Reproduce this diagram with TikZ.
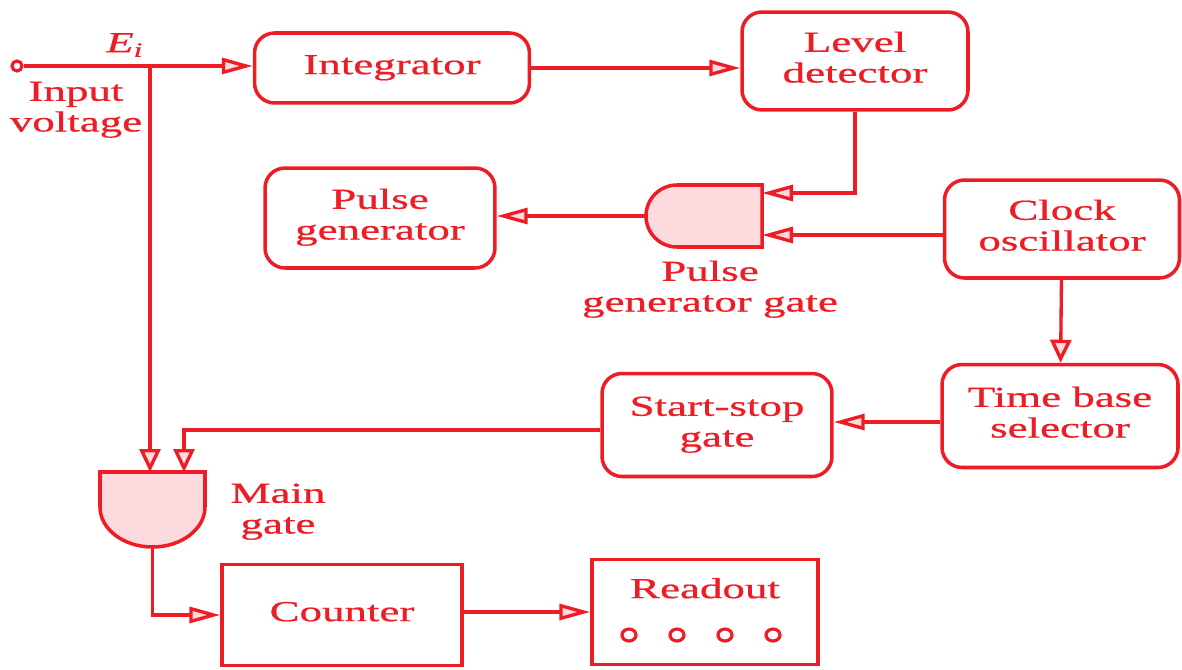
\documentclass[tikz,border=0pt]{standalone}
\usepackage{fontspec}
\setmainfont{Liberation Serif}[FakeBold=0.6]
\usetikzlibrary{arrows.meta}
\definecolor{ink}{RGB}{238,28,36}
\definecolor{pinkfill}{RGB}{253,218,222}
\newcommand{\T}[1]{\scalebox{1.55}[1]{\begin{tabular}{@{}c@{}}#1\end{tabular}}}
\tikzset{
  rbox/.style={draw=ink, line width=2pt, rounded corners=0.4cm, inner sep=0pt},
  sbox/.style={draw=ink, line width=2pt, inner sep=0pt},
  txt/.style={text=ink, font=\fontsize{16.5}{17.5}\selectfont, inner sep=0pt},
  wire/.style={draw=ink, line width=1.9pt},
  harr/.style={wire, -{Triangle[length=0.62cm,width=0.32cm,fill=pinkfill]}},
  varr/.style={wire, -{Triangle[length=0.46cm,width=0.42cm,fill=pinkfill]}},
  gate/.style={draw=ink, line width=2pt, fill=pinkfill}
}
\begin{document}
\begin{tikzpicture}[x=0.02cm,y=0.02cm]
\useasboundingbox (0,0) rectangle (1182,-669);
% boxes
\node (int) [rbox, txt, minimum width=5.5cm, minimum height=1.4cm] at (392,-68) {\T{Integrator}};
\node (lev) [rbox, txt, minimum width=4.52cm, minimum height=1.96cm] at (855,-61) {\T{Level\\detector}};
\node (pgen) [rbox, txt, minimum width=4.6cm, minimum height=2cm] at (380,-218) {\T{Pulse\\generator}};
\node (clk) [rbox, txt, minimum width=4.7cm, minimum height=1.96cm] at (1062,-229) {\T{Clock\\oscillator}};
\node (tbs) [rbox, txt, minimum width=4.72cm, minimum height=2.06cm] at (1060,-416) {\T{Time base\\selector}};
\node (ssg) [rbox, txt, minimum width=4.6cm, minimum height=2.06cm] at (717,-425) {\T{Start-stop\\gate}};
\node (cnt) [sbox, txt, minimum width=4.8cm, minimum height=2.02cm] at (342,-615) {\T{Counter}};
\node (rd) [sbox, minimum width=4.52cm, minimum height=2.1cm] at (705,-612) {};
\node (rdt) [txt] at (705,-592) {\T{Readout}};
\foreach \cx in {629,677,725,773} \draw[ink, line width=1.8pt] (\cx,-635) ellipse [x radius=7, y radius=6];
% labels
\node (ei) [txt] at (125,-45) {\scalebox{1.55}[1]{\itshape E\textsubscript{i}}};
\node (inv) [txt] at (76,-110) {\T{Input\\voltage}};
\node (pgl) [txt] at (710,-290) {\T{Pulse\\generator gate}};
\node (mgl) [txt] at (278,-512) {\T{Main\\gate}};
% input terminal
\node (inp) [draw=ink, line width=1.8pt, circle, minimum size=0.2cm, inner sep=0pt] at (17,-66) {};
% pulse generator gate (facing left)
\draw[gate] (762,-185) -- (677,-185) arc[start angle=90, end angle=270, radius=31] -- (762,-247) -- cycle;
\coordinate (pgo) at (646,-216);
\coordinate (pgi1) at (762,-193);
\coordinate (pgi2) at (762,-235);
% main gate (facing down)
\draw[gate] (100,-472) -- (205,-472) -- (205,-507) arc[start angle=0, end angle=-180, x radius=52.5, y radius=40] -- cycle;
\coordinate (mgi1) at (150,-472);
\coordinate (mgi2) at (184,-472);
\coordinate (mgo) at (152.5,-547);
% connectors
\coordinate (br) at (150,-66);
\draw[harr] (inp) -- (int.west |- inp);
\draw[varr] (br) -- (mgi1);
\draw[harr] (int) -- (int -| lev.west);
\draw[harr] (lev.south) |- (pgi1);
\draw[harr] (clk.west |- pgi2) -- (pgi2);
\draw[harr] (pgo) -- (pgen.east |- pgo);
\draw[varr] (clk) -- (tbs);
\draw[harr] (tbs.west |- 0,-422) -- (ssg.east |- 0,-422);
\draw[varr] (ssg.west |- 0,-430) -| (mgi2);
\draw[harr] (mgo) |- (cnt.west);
\draw[harr] (cnt.east |- 0,-612) -- (rd.west |- 0,-612);
\end{tikzpicture}
\end{document}
